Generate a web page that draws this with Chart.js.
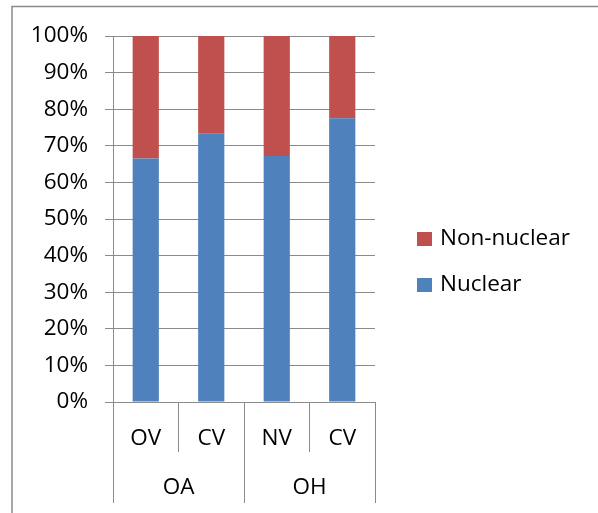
<!DOCTYPE html>
<html>
<head>
<meta charset="utf-8">
<script src="https://cdn.jsdelivr.net/npm/chart.js@4/dist/chart.umd.min.js"></script>
<style>
  html, body { margin: 0; padding: 0; background: #fff; }
  #wrap { width: 598px; height: 513px; }
</style>
</head>
<body>
<div id="wrap"><canvas id="c" width="598" height="513"></canvas></div>
<script>
const categories = ['OV', 'CV', 'NV', 'CV'];
const groups = ['OA', 'OH'];
const nuclear = [66.5, 73.3, 67.2, 77.5];
const nonNuclear = [33.5, 26.7, 32.8, 22.5];
const seriesNames = ['Nuclear', 'Non-nuclear'];
const seriesColors = ['#4F81BD', '#C0504D'];

const FONT = { family: '"Open Sans", "Liberation Sans", sans-serif', size: 22.5 };
const GRID = '#8a8a8a';
Chart.defaults.color = '#000';
Chart.defaults.font.family = FONT.family;
Chart.defaults.font.size = FONT.size;

const frame = {
  id: 'frame',
  beforeDraw(chart) {
    const ctx = chart.ctx;
    ctx.save();
    ctx.strokeStyle = '#8a8a8a';
    ctx.lineWidth = 1.5;
    ctx.beginPath();
    ctx.moveTo(12, 513);
    ctx.lineTo(12, 6.5);
    ctx.lineTo(598, 6.5);
    ctx.stroke();
    ctx.restore();
  }
};

const sideLegend = {
  id: 'sideLegend',
  afterDraw(chart) {
    const ctx = chart.ctx;
    const ds = chart.data.datasets.slice().reverse();
    ctx.save();
    ctx.font = FONT.size + 'px ' + FONT.family;
    ctx.textBaseline = 'middle';
    ctx.textAlign = 'left';
    ds.forEach((d, i) => {
      const cy = 239 + i * 46;
      ctx.fillStyle = d.backgroundColor;
      ctx.fillRect(417, cy - 7, 15, 14);
      ctx.fillStyle = '#000';
      ctx.fillText(d.label, 440, cy);
    });
    ctx.restore();
  }
};

new Chart(document.getElementById('c'), {
  type: 'bar',
  data: {
    labels: categories,
    datasets: [
      { label: seriesNames[0], data: nuclear, backgroundColor: seriesColors[0] },
      { label: seriesNames[1], data: nonNuclear, backgroundColor: seriesColors[1] }
    ]
  },
  options: {
    responsive: false,
    maintainAspectRatio: false,
    animation: false,
    categoryPercentage: 1.0,
    barPercentage: 0.4,
    layout: { padding: { left: 0, top: 36, right: 223, bottom: 10 } },
    plugins: { legend: { display: false }, tooltip: { enabled: false } },
    scales: {
      y: {
        stacked: true,
        min: 0, max: 100,
        afterFit(s) { s.width = 113; },
        ticks: { stepSize: 10, padding: 17, callback: v => v + '%', font: FONT, color: '#000' },
        grid: { color: GRID, lineWidth: 1, tickLength: 8 },
        border: { display: true, color: GRID, width: 1 }
      },
      x: {
        stacked: true,
        offset: true,
        afterFit(s) { s.height = 50; },
        ticks: { padding: -27, font: FONT, color: '#000', maxRotation: 0, autoSkip: false },
        grid: { offset: true, drawOnChartArea: false, color: GRID, tickLength: 50 },
        border: { display: false }
      },
      x2: {
        type: 'category',
        position: 'bottom',
        labels: groups,
        offset: true,
        afterFit(s) { s.height = 51; },
        ticks: { padding: -29, font: FONT, color: '#000', maxRotation: 0, autoSkip: false },
        grid: { offset: true, drawOnChartArea: false, color: GRID, tickLength: 51 },
        border: { display: false }
      }
    }
  },
  plugins: [frame, sideLegend]
});
</script>
</body>
</html>
